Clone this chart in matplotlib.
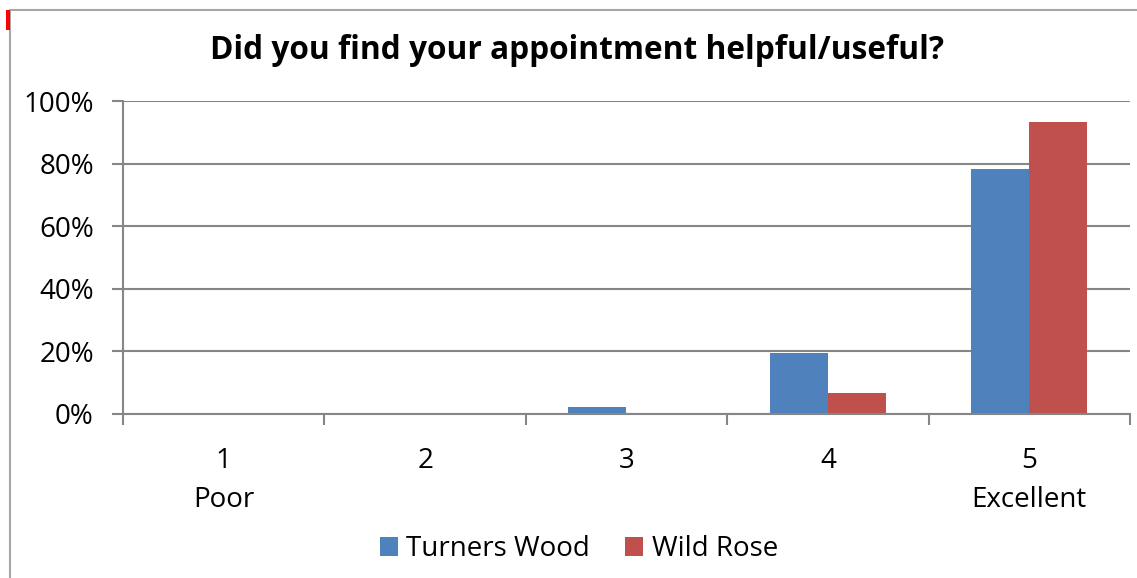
import numpy as np
import matplotlib.pyplot as plt
from matplotlib.patches import Rectangle
from matplotlib.ticker import PercentFormatter

categories = ["1\nPoor", "2", "3", "4", "5\nExcellent"]
turners_wood = [0.0, 0.0, 2.2, 19.6, 78.3]
wild_rose = [0.0, 0.0, 0.0, 6.7, 93.3]
series_names = ["Turners Wood", "Wild Rose"]
yticks = [0, 20, 40, 60, 80, 100]

blue = "#4f81bd"
red = "#c0504d"
grey = "#868686"

plt.rcParams['font.family'] = ['Open Sans', 'DejaVu Sans']

fig = plt.figure(figsize=(11.37, 5.78), dpi=100)
W, H = 1137, 578

# chart frame and the little red marker at its corner
fig.patches.append(Rectangle((10 / W, -0.1), 1.2, 1 - 10 / H + 0.1, transform=fig.transFigure,
                             fill=False, edgecolor="#a6a6a6", lw=1.5))
fig.patches.append(Rectangle((6 / W, 1 - 30 / H), 4 / W, 20 / H, transform=fig.transFigure,
                             facecolor="#ff0000", edgecolor="none"))

ax = fig.add_axes([123 / W, 1 - 414 / H, (1130 - 123) / W, (414 - 101) / H])

x = np.arange(1, len(categories) + 1)
w = 0.288
ax.bar(x - w / 2, turners_wood, w, color=blue, label=series_names[0], zorder=3)
ax.bar(x + w / 2, wild_rose, w, color=red, label=series_names[1], zorder=3)

ax.set_xlim(0.5, len(categories) + 0.5)
ax.set_ylim(0, 100)
ax.set_yticks(yticks)
ax.yaxis.set_major_formatter(PercentFormatter(decimals=0))
ax.grid(axis='y', color=grey, lw=1.5, zorder=0)

# category boundary ticks, labels centred in between
ax.set_xticks(np.arange(0.5, len(categories) + 1, 1))
ax.set_xticklabels([])
ax.set_xticks(x, minor=True)
ax.set_xticklabels(categories, minor=True, fontsize=20, linespacing=1.55)
ax.tick_params(axis='x', which='minor', length=0, pad=23.5)
ax.tick_params(axis='x', which='major', length=8, width=1.5, color=grey, direction='out')
ax.tick_params(axis='y', length=8, width=1.5, color=grey, labelsize=20, pad=13)

for s in ['top', 'right']:
    ax.spines[s].set_visible(False)
for s in ['left', 'bottom']:
    ax.spines[s].set_color(grey)
    ax.spines[s].set_linewidth(1.5)
    ax.spines[s].set_zorder(4)

fig.text(577 / W, 1 - 59 / H, "Did you find your appointment helpful/useful?",
         ha='center', va='baseline', fontsize=22.8, fontweight='bold')

fig.legend(loc='center', bbox_to_anchor=(579 / W, 1 - 549 / H), ncol=2, frameon=False,
           fontsize=20, handlelength=0.65, handleheight=0.65, handletextpad=0.32,
           columnspacing=1.26, borderpad=0, borderaxespad=0)

fig.savefig("out.png", dpi=100)
